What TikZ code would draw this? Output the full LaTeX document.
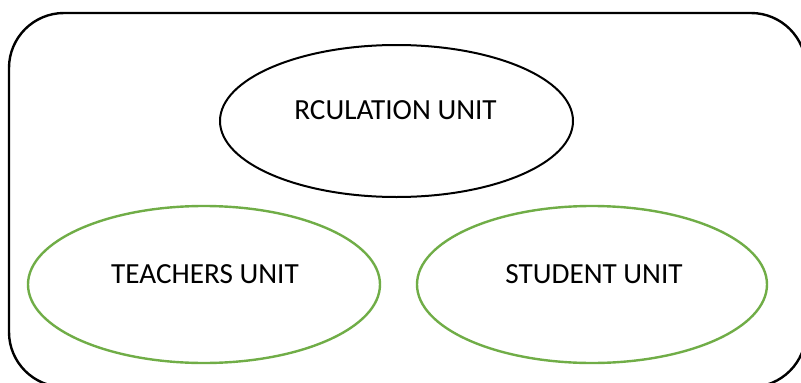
\documentclass[tikz,border=0pt]{standalone}
\usepackage{fontspec}
\setmainfont{Carlito}
\usetikzlibrary{shapes.geometric}
\definecolor{wgreen}{HTML}{70AD47}
\tikzset{
  unitoval/.style={ellipse, draw, inner sep=0pt},
  blackoval/.style={unitoval, draw=black, line width=2pt},
  greenoval/.style={unitoval, draw=wgreen, line width=2.4pt},
  unitlabel/.style={inner sep=0pt, font=\fontsize{29.2}{35}\selectfont, text=black},
}
\begin{document}
\begin{tikzpicture}[x=1pt,y=-1pt]
  \useasboundingbox (0,0) rectangle (801,383);
  \node[draw=black, line width=2.4pt, rounded corners=55pt, minimum width=797pt, minimum height=374pt, inner sep=0pt] (frame) at (407.5,200) {};
  \node[blackoval, minimum width=353pt, minimum height=152pt] (circ) at (396.5,121) {};
  \node[greenoval, minimum width=352pt, minimum height=157pt] (teach) at (204,284.5) {};
  \node[greenoval, minimum width=350pt, minimum height=157pt] (stud) at (592,284.5) {};
  \node[unitlabel] (circt) at (395.5,110) {RCULATION UNIT};
  \node[unitlabel] (teacht) at (205,274.5) {TEACHERS UNIT};
  \node[unitlabel] (studt) at (594,274.5) {STUDENT UNIT};
\end{tikzpicture}
\end{document}
